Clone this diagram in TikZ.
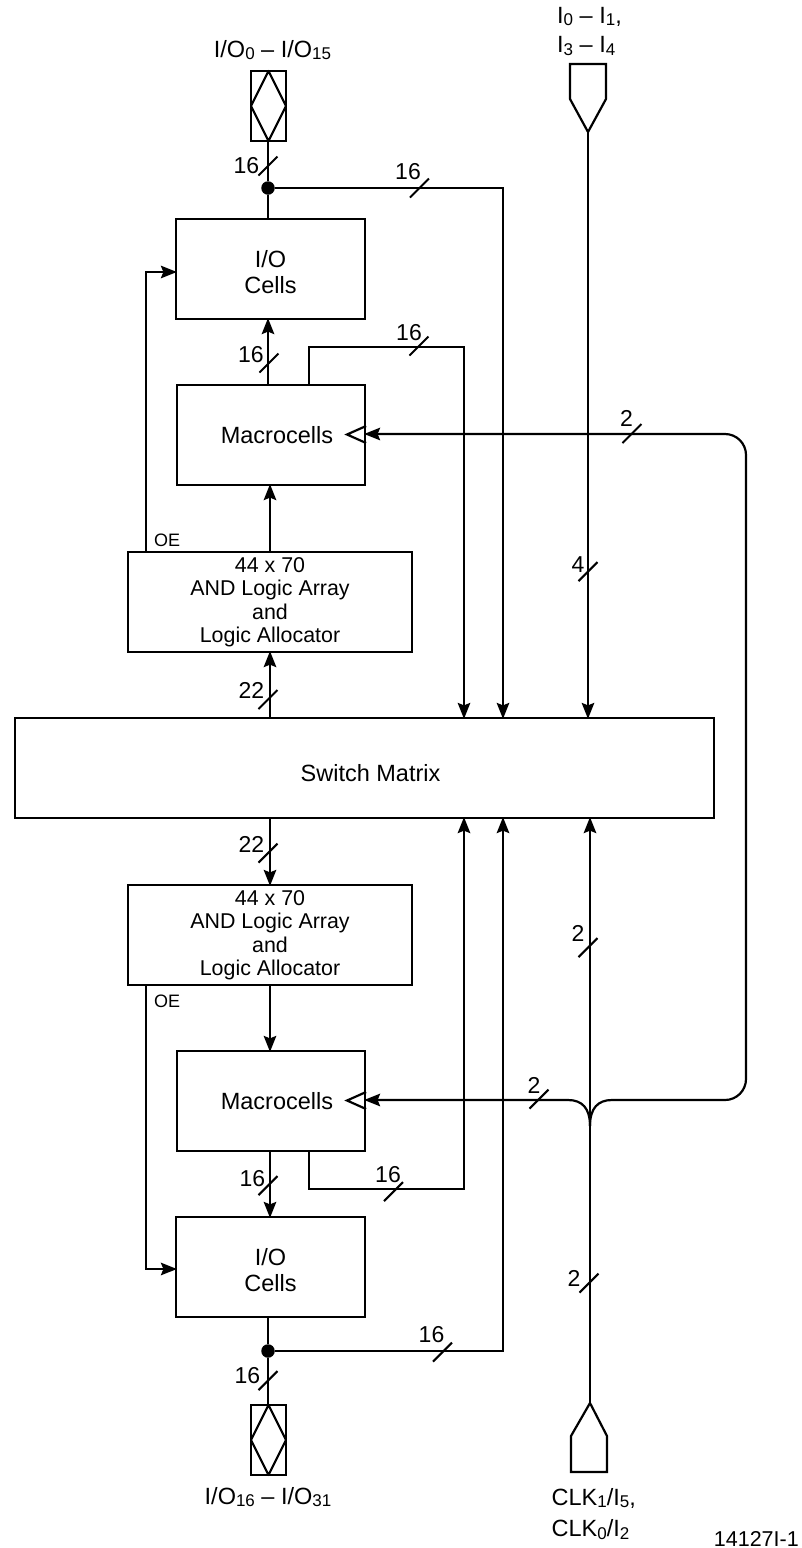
\documentclass[tikz,border=0pt]{standalone}
\usepackage{fontspec}
\setmainfont{Liberation Sans}
\usetikzlibrary{arrows.meta,calc}
\newcommand{\sbs}[1]{\raisebox{-2.5pt}{\fontsize{17}{18}\selectfont #1}}
\tikzset{
  x=1pt,y=-1pt,
  wire/.style={line width=2.2pt,line join=miter,black},
  arr/.style={wire,-{Stealth[length=16pt,width=12.5pt,inset=2.5pt]},shorten >=-2pt},
  boxn/.style={draw,line width=2.2pt,inner sep=0pt,align=center,
    font=\fontsize{23.5}{26}\selectfont},
  iobox/.style={boxn,minimum width=189pt,minimum height=100pt},
  mcbox/.style={boxn,minimum width=188pt,minimum height=100pt},
  andbox/.style={boxn,minimum width=284pt,minimum height=100pt,
    font=\fontsize{21.4}{23.5}\selectfont},
  lbl/.style={inner sep=0pt,font=\fontsize{23.5}{29.5}\selectfont,align=center},
  clkl/.style={inner sep=0pt,font=\fontsize{23.5}{31.5}\selectfont,align=left},
  numl/.style={inner sep=0pt,font=\fontsize{23}{24}\selectfont},
  smalll/.style={inner sep=0pt,font=\fontsize{18}{18}\selectfont},
  slash/.style={line width=2.1pt,black},
  dot/.style={circle,fill=black,inner sep=0pt,minimum size=13.5pt},
  pinbox/.style={draw,line width=2.2pt,inner sep=0pt,outer sep=0pt,minimum width=35pt,minimum height=70pt},
  diam/.style={wire,line join=round}
}
\newcommand{\slsh}[2]{\draw[slash] (#1-9.5,#2+9.5) -- (#1+9.5,#2-9.5);}
\begin{document}
\begin{tikzpicture}
\useasboundingbox (0,0) rectangle (801,1548);
% columns
\coordinate (colA) at (268,0);
\coordinate (colB) at (270,0);
\coordinate (colM) at (309,0);
\coordinate (colC) at (464,0);
\coordinate (colD) at (503,0);
\coordinate (colE) at (588,0);
\coordinate (colF) at (590,0);
\coordinate (colO) at (146,0);
% boxes
\node[iobox] (io1) at (270.5,269) {\rule{0pt}{23pt}I/O\\Cells};
\node[mcbox] (mc1) at (271,435) {\hspace*{12pt}Macrocells};
\node[andbox] (and1) at (270,602) {44 x 70\\AND Logic Array\\and\\Logic Allocator};
\node[boxn,minimum width=699pt,minimum height=100pt] (sw) at (364.5,768) {\hspace*{12pt}\rule{0pt}{27pt}Switch Matrix};
\node[andbox] (and2) at (270,935) {44 x 70\\AND Logic Array\\and\\Logic Allocator};
\node[mcbox] (mc2) at (271,1101) {\hspace*{12pt}Macrocells};
\node[iobox] (io2) at (270.5,1267) {\rule{0pt}{23pt}I/O\\Cells};
% bidirectional pins
\node[pinbox] (pin1) at (268.5,106) {};
\draw[diam] (pin1.north) -- (pin1.east) -- (pin1.south) -- (pin1.west) -- cycle;
\node[pinbox] (pin2) at (268.5,1440) {};
\draw[diam] (pin2.north) -- (pin2.east) -- (pin2.south) -- (pin2.west) -- cycle;
% input pins
\coordinate (inTip) at (588,132);
\draw[wire] (570,64) -- (606,64) -- (606,99) -- (inTip) -- (570,99) -- cycle;
\coordinate (ckTip) at (590,1403);
\draw[wire] (ckTip) -- (607,1436) -- (607,1472) -- (571,1472) -- (571,1436) -- cycle;
% junctions
\node[dot] (j1) at (268,188) {};
\node[dot] (j2) at (268,1351) {};
% top half
\draw[wire] (pin1.south -| j1) -- (j1) -- (io1.north -| j1);
\draw[arr] (j1) -| (sw.north -| colD);
\draw[arr] (mc1.north -| colA) -- (io1.south -| colA);
\draw[arr] (mc1.north -| colM) |- (colC |- 0,347) -- (sw.north -| colC);
\draw[arr] (and1.north -| colB) -- (mc1.south -| colB);
\draw[arr] (sw.north -| colB) -- (and1.south -| colB);
\draw[arr] (and1.north -| colO) |- (io1.west |- 0,272);
\draw[arr] (inTip) -- (sw.north -| colE);
% bottom half
\draw[arr] (sw.south -| colB) -- (and2.north -| colB);
\draw[arr] (and2.south -| colB) -- (mc2.north -| colB);
\draw[arr] (mc2.south -| colB) -- (io2.north -| colB);
\draw[arr] (and2.south -| colO) |- (io2.west |- 0,1269);
\draw[arr] (mc2.south -| colM) |- (colC |- 0,1189) -- (sw.south -| colC);
\draw[wire] (io2.south -| j2) -- (j2) -- (pin2.north -| j2);
\draw[arr] (j2) -| (sw.south -| colD);
\draw[arr] (ckTip) -- (sw.south -| colF);
% clock lines
\coordinate (fork) at (590,1126);
\draw[arr] (fork) .. controls (590,1108) and (582,1100) .. (568,1100) -- (mc2.east |- 0,1100);
\draw[arr] (fork) .. controls (590,1108) and (598,1100) .. (612,1100) -- (725,1100)
  .. controls (736.6,1100) and (746,1090.6) .. (746,1079) -- (746,455)
  .. controls (746,443.4) and (736.6,434) .. (725,434) -- (mc1.east |- 0,434);
% clock triangles
\draw[wire,line join=miter] (mc1.east |- 0,426) -- (347,434.5) -- (mc1.east |- 0,443);
\draw[wire,line join=miter] (mc2.east |- 0,1092) -- (347,1100.5) -- (mc2.east |- 0,1109);
% bus slashes
\slsh{268}{166}
\slsh{419.5}{188}
\slsh{269}{363}
\slsh{419}{346}
\slsh{632}{433.5}
\slsh{588}{571.5}
\slsh{268}{699.5}
\slsh{268}{853}
\slsh{588}{947.5}
\slsh{539}{1099}
\slsh{393.5}{1191.5}
\slsh{268}{1185.5}
\slsh{442.5}{1352}
\slsh{268}{1380.5}
\slsh{589}{1283}
% bus labels
\node[numl] (n1) at (246.5,166) {16};
\node[numl] (n2) at (408,172) {16};
\node[numl] (n3) at (251,355) {16};
\node[numl] (n4) at (409,332.5) {16};
\node[numl] (n5) at (626.5,418.5) {2};
\node[numl] (n6) at (578,564.5) {4};
\node[numl] (n7) at (251.5,690) {22};
\node[numl] (n8) at (251.5,844) {22};
\node[numl] (n9) at (578,933.5) {2};
\node[numl] (n10) at (534,1085) {2};
\node[numl] (n11) at (388,1174.5) {16};
\node[numl] (n12) at (252.5,1179) {16};
\node[numl] (n13) at (431.5,1335) {16};
\node[numl] (n14) at (247.5,1375.5) {16};
\node[numl] (n15) at (574,1278) {2};
% OE
\node[smalll,anchor=west] (oe1) at (154,540) {OE};
\node[smalll,anchor=west] (oe2) at (154,1001) {OE};
% pin labels
\node[lbl] (l1) at (272.5,50) {I/O\sbs{0} – I/O\sbs{15}};
\node[lbl] (l2) at (268,1497) {I/O\sbs{16} – I/O\sbs{31}};
\node[lbl,align=left,anchor=north west] (l3) at (557,7) {I\sbs{0} – I\sbs{1},\\I\sbs{3} – I\sbs{4}};
\node[clkl,anchor=north west] (l4) at (551.5,1488) {CLK\sbs{1}/I\sbs{5},\\CLK\sbs{0}/I\sbs{2}};
\node[inner sep=0pt,font=\fontsize{21.5}{22}\selectfont,anchor=east] (l5) at (799,1538.5) {14127I-1};
\end{tikzpicture}
\end{document}
